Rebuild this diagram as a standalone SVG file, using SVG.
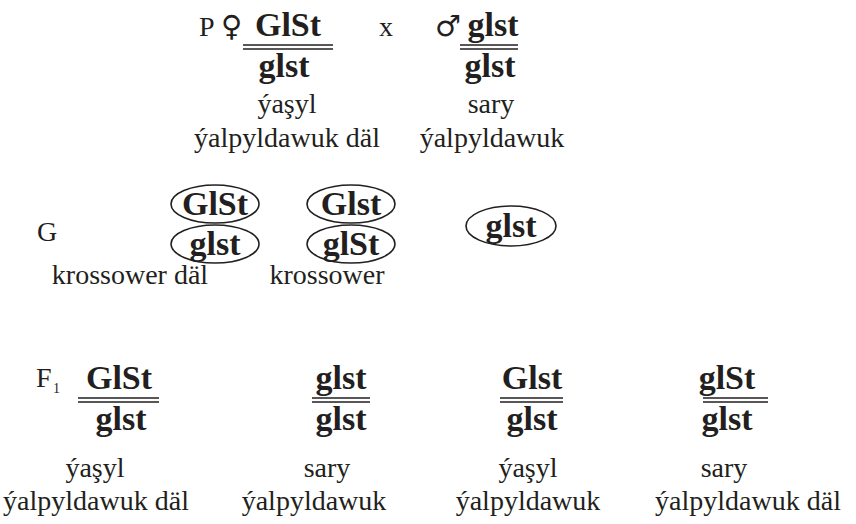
<svg xmlns="http://www.w3.org/2000/svg" width="856" height="524" viewBox="0 0 856 524" font-family="Liberation Serif, serif">
<style>
.r{font-family:'Liberation Serif',serif;font-size:28px;fill:#231f20}
.b{font-family:'Liberation Serif',serif;font-size:34px;font-weight:bold;fill:#231f20}
.c{text-anchor:middle}
.sym{font-family:'DejaVu Sans',sans-serif;font-size:29px;fill:#231f20}
.dl{stroke:#231f20;stroke-width:1.5;fill:none}
.el{stroke:#231f20;stroke-width:1.6;fill:none}
</style>
<rect width="856" height="524" fill="#fff"/>
<g id="parents">
<text class="r" x="199" y="36">P</text>
<text class="sym" x="221" y="36">♀</text>
<text class="b c" x="288" y="36">GlSt</text>
<path class="dl" d="M243 45H333M243 49H333"/>
<text class="b c" x="284" y="77">glst</text>
<text class="r" x="379" y="36">x</text>
<text class="sym" x="435" y="36">♂</text>
<text class="b c" x="493" y="36">glst</text>
<path class="dl" d="M460 45H518M460 49H518"/>
<text class="b c" x="490" y="77">glst</text>
<text class="r c" x="287" y="113">ýaşyl</text>
<text class="r c" x="287" y="147">ýalpyldawuk däl</text>
<text class="r c" x="491" y="113">sary</text>
<text class="r c" x="492" y="147">ýalpyldawuk</text>
</g>
<g id="gametes">
<text class="r" x="37" y="241">G</text>
<g id="g1"><ellipse class="el" cx="215" cy="204" rx="44" ry="19"/><text class="b c" x="215" y="215">GlSt</text></g>
<g id="g2"><ellipse class="el" cx="215" cy="244" rx="44" ry="19"/><text class="b c" x="215" y="255">glst</text></g>
<g id="g3"><ellipse class="el" cx="351" cy="204" rx="44" ry="19"/><text class="b c" x="351" y="215">Glst</text></g>
<g id="g4"><ellipse class="el" cx="351" cy="244" rx="44" ry="19"/><text class="b c" x="351" y="255">glSt</text></g>
<g id="g5"><ellipse class="el" cx="511" cy="226" rx="45" ry="20"/><text class="b c" x="511" y="237">glst</text></g>
<text class="r c" x="130" y="284">krossower däl</text>
<text class="r c" x="327" y="284">krossower</text>
</g>
<g id="f1">
<text class="r" x="36" y="387">F</text>
<text class="r" x="53" y="393" style="font-size:14px">1</text>
<g id="o1"><text class="b c" x="119" y="389">GlSt</text><path class="dl" d="M78 398H159M78 402H159"/><text class="b c" x="121" y="430">glst</text>
<text class="r c" x="95" y="477">ýaşyl</text><text class="r c" x="96" y="510">ýalpyldawuk däl</text></g>
<g id="o2"><text class="b c" x="341" y="389">glst</text><path class="dl" d="M312 398H370M312 402H370"/><text class="b c" x="341" y="430">glst</text>
<text class="r c" x="327" y="477">sary</text><text class="r c" x="314" y="510">ýalpyldawuk</text></g>
<g id="o3"><text class="b c" x="532" y="389">Glst</text><path class="dl" d="M500 398H563M500 402H563"/><text class="b c" x="532" y="430">glst</text>
<text class="r c" x="528" y="477">ýaşyl</text><text class="r c" x="528" y="510">ýalpyldawuk</text></g>
<g id="o4"><text class="b c" x="727" y="389">glSt</text><path class="dl" d="M703 398H768M703 402H768"/><text class="b c" x="727" y="430">glst</text>
<text class="r c" x="724" y="477">sary</text><text class="r c" x="748" y="510">ýalpyldawuk däl</text></g>
</g>
</svg>
